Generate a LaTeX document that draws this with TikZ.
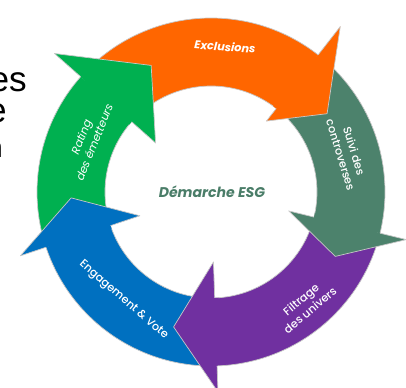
\documentclass[tikz,border=0pt]{standalone}
\usepackage{fontspec}
\setmainfont{Poppins}
\newfontfamily\stepfont{Poppins Medium}
\newfontfamily\slidefont{Liberation Sans}
\usetikzlibrary{calc}

\definecolor{exclOrange}{RGB}{255,102,0}
\definecolor{suiviTeal}{RGB}{76,130,108}
\definecolor{filtPurple}{RGB}{112,48,160}
\definecolor{engBlue}{RGB}{0,112,192}
\definecolor{ratGreen}{RGB}{0,176,80}
\definecolor{esgText}{RGB}{74,125,104}

% ring radii (picture units)
\newcommand{\ringIn}{106}
\newcommand{\ringOut}{174}
\newcommand{\tipR}{140}

\begin{document}
\begin{tikzpicture}[
    x=0.025cm, y=0.025cm,
    every node/.style={inner sep=0pt},
    steplabel/.style={text=white, font=\stepfont\fontsize{8}{10}\selectfont, align=center},
    rim/.style={draw=black!22, line width=0.5pt, line join=round},
    slidetext/.style={anchor=base east, font=\slidefont\fontsize{25}{30}\selectfont}
]
    \useasboundingbox (-211,-195) rectangle (195,192);

    % Slide text behind the cycle
    \node[slidetext] (slideA) at (-184,100) {es};
    \node[slidetext] (slideB) at (-204,69) {e};
    \node[slidetext, font=\slidefont\fontsize{20}{24}\selectfont] (slideC) at (-208,34) {n};

    % Ring bands (tail angle / base of the head)
    \foreach \col/\tail/\base in {exclOrange/134.5/52, suiviTeal/48/-13.7,
        filtPurple/-17.7/-88, engBlue/-92/-161.5, ratGreen/-165.5/-221.5} {
        \fill[\col] (\tail:\ringOut) arc[start angle=\tail, end angle=\base, radius=\ringOut]
            -- (\base:\ringIn) arc[start angle=\base, end angle=\tail, radius=\ringIn] -- cycle;
        \draw[rim] (\tail:\ringOut) arc[start angle=\tail, end angle=\base, radius=\ringOut];
        \draw[rim] (\tail:\ringIn) arc[start angle=\tail, end angle=\base, radius=\ringIn];
    }

    % Arrow heads on top of the next band
    \foreach \col/\base/\tip/\win/\wout in {exclOrange/52/34/90/210, suiviTeal/-13.7/-27.4/80/201,
        filtPurple/-88/-105.5/70/200, engBlue/-161.5/-177.6/75/201, ratGreen/138.5/115.3/74/209} {
        \fill[\col] ($(\base:\ringOut)!0.02!(\base+3:\ringOut)$) -- (\base:\ringOut) -- (\base:\wout)
            -- (\tip:\tipR) -- (\base:\win) -- (\base:\ringIn) -- (\base+2:\ringIn) -- cycle;
        \draw[rim] (\base:\ringOut) -- (\base:\wout) -- (\tip:\tipR) -- (\base:\win) -- (\base:\ringIn);
    }

    % Step labels
    \node[steplabel, font=\fontsize{8}{10}\selectfont\bfseries\itshape, rotate=-4]
        (exclusions) at (84.5:146) {Exclusions};
    \node[steplabel, rotate=-73] (suivi) at (16:142) {Suivi des\\controverses};
    \node[steplabel, rotate=40] (filtrage) at (-50:147) {Filtrage\\des univers};
    \node[steplabel, rotate=-41] (engagement) at (-129:139) {Engagement \& Vote};
    \node[steplabel, font=\fontsize{8}{10}\selectfont\itshape, rotate=68]
        (rating) at (157:134) {Rating\\des émetteurs};

    % Centre title
    \node[text=esgText, font=\fontsize{10}{12}\selectfont\bfseries\itshape] (esg) at (1,0) {Démarche ESG};

\end{tikzpicture}
\end{document}
